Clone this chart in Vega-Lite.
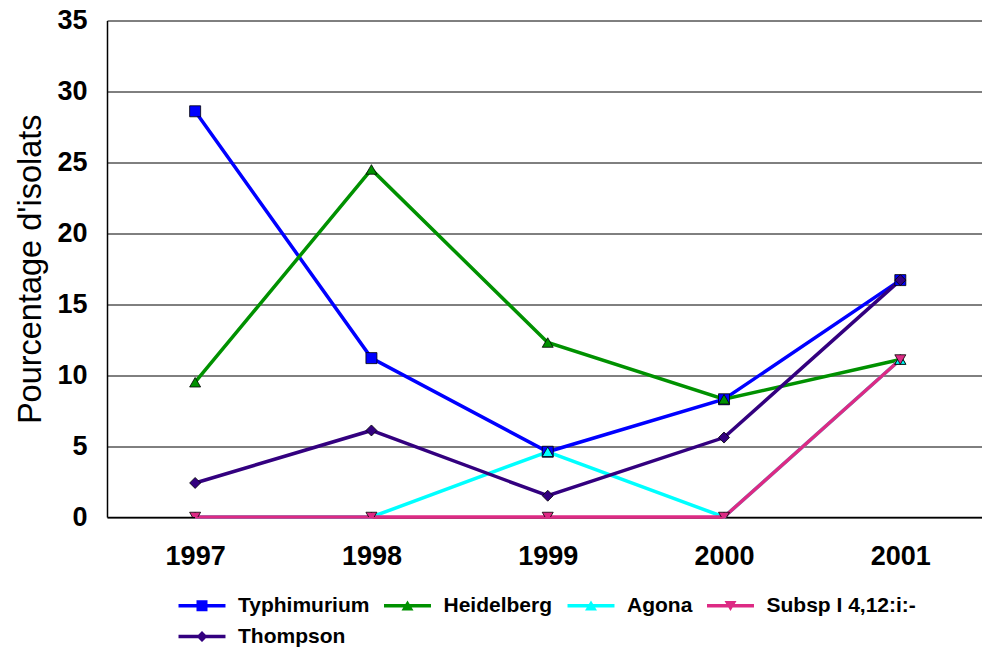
{
  "$schema": "https://vega.github.io/schema/vega-lite/v6.json",
  "width": 875,
  "height": 496.5,
  "autosize": {"type": "none"},
  "padding": {"left": 107, "top": 20.5, "right": 0, "bottom": 133},
  "background": "white",
  "config": {"view": {"stroke": null}, "font": "Liberation Sans"},
  "data": {
    "values": [
      {"annee": "1997", "serie": "Typhimurium", "pct": 28.6},
      {"annee": "1998", "serie": "Typhimurium", "pct": 11.2},
      {"annee": "1999", "serie": "Typhimurium", "pct": 4.6},
      {"annee": "2000", "serie": "Typhimurium", "pct": 8.3},
      {"annee": "2001", "serie": "Typhimurium", "pct": 16.7},
      {"annee": "1997", "serie": "Heidelberg", "pct": 9.5},
      {"annee": "1998", "serie": "Heidelberg", "pct": 24.5},
      {"annee": "1999", "serie": "Heidelberg", "pct": 12.3},
      {"annee": "2000", "serie": "Heidelberg", "pct": 8.3},
      {"annee": "2001", "serie": "Heidelberg", "pct": 11.1},
      {"annee": "1997", "serie": "Agona", "pct": 0},
      {"annee": "1998", "serie": "Agona", "pct": 0},
      {"annee": "1999", "serie": "Agona", "pct": 4.6},
      {"annee": "2000", "serie": "Agona", "pct": 0},
      {"annee": "2001", "serie": "Agona", "pct": 11.1},
      {"annee": "1997", "serie": "Subsp I 4,12:i:-", "pct": 0},
      {"annee": "1998", "serie": "Subsp I 4,12:i:-", "pct": 0},
      {"annee": "1999", "serie": "Subsp I 4,12:i:-", "pct": 0},
      {"annee": "2000", "serie": "Subsp I 4,12:i:-", "pct": 0},
      {"annee": "2001", "serie": "Subsp I 4,12:i:-", "pct": 11.1},
      {"annee": "1997", "serie": "Thompson", "pct": 2.4},
      {"annee": "1998", "serie": "Thompson", "pct": 6.1},
      {"annee": "1999", "serie": "Thompson", "pct": 1.5},
      {"annee": "2000", "serie": "Thompson", "pct": 5.6},
      {"annee": "2001", "serie": "Thompson", "pct": 16.7}
    ]
  },
  "encoding": {
    "x": {
      "field": "annee", "type": "ordinal",
      "scale": {"type": "point", "padding": 0.4816, "align": 0.519},
      "axis": {
        "title": null, "labelAngle": 0, "grid": false,
        "ticks": false, "tickSize": 0,
        "domainColor": "#000000", "domainWidth": 1.5,
        "labelFont": "Liberation Sans", "labelFontWeight": "bold", "labelFontSize": 27,
        "labelColor": "#000000", "labelPadding": 26
      }
    },
    "y": {
      "field": "pct", "type": "quantitative",
      "scale": {"domain": [0, 35], "nice": false},
      "axis": {
        "values": [0, 5, 10, 15, 20, 25, 30, 35],
        "grid": true, "gridColor": "#000000", "gridWidth": 1, "gridOpacity": 1,
        "ticks": false, "tickSize": 0,
        "domainColor": "#000000", "domainWidth": 1.5,
        "labelFont": "Liberation Sans", "labelFontWeight": "bold", "labelFontSize": 27,
        "labelColor": "#000000", "labelPadding": 20,
        "title": "Pourcentage d'isolats",
        "titleFont": "Liberation Sans", "titleFontWeight": "normal", "titleFontSize": 32.5,
        "titleColor": "#000000", "titlePadding": 9
      }
    }
  },
  "layer": [
    {
      "mark": {"type": "line", "strokeWidth": 3.5},
      "encoding": {
        "color": {
          "field": "serie", "type": "nominal",
          "scale": {
            "domain": ["Typhimurium", "Heidelberg", "Agona", "Subsp I 4,12:i:-", "Thompson"],
            "range": ["#0000FF", "#009100", "#00FFFF", "#DD2A84", "#33007F"]
          },
          "legend": null
        }
      }
    },
    {
      "mark": {"type": "point", "filled": true, "size": 121, "stroke": "#000000", "strokeWidth": 0.8, "opacity": 1, "clip": true},
      "encoding": {
        "fill": {
          "field": "serie", "type": "nominal",
          "scale": {
            "domain": ["Typhimurium", "Heidelberg", "Agona", "Subsp I 4,12:i:-", "Thompson"],
            "range": ["#0000FF", "#009100", "#00FFFF", "#DD2A84", "#33007F"]
          },
          "legend": null
        },
        "shape": {
          "field": "serie", "type": "nominal",
          "scale": {
            "domain": ["Typhimurium", "Heidelberg", "Agona", "Subsp I 4,12:i:-", "Thompson"],
            "range": ["square", "triangle-up", "triangle-up", "triangle-down", "diamond"]
          },
          "legend": null
        }
      }
    },
    {
      "mark": {"type": "point", "filled": true, "size": 121, "opacity": 0, "strokeWidth": 0, "clip": true},
      "encoding": {
        "fill": {
          "field": "serie", "type": "nominal",
          "scale": {
            "domain": ["Typhimurium", "Heidelberg", "Agona", "Subsp I 4,12:i:-", "Thompson"],
            "range": ["#0000FF", "#009100", "#00FFFF", "#DD2A84", "#33007F"]
          },
          "legend": {
            "title": null, "orient": "none", "legendX": 84.5, "legendY": 574.5,
            "direction": "horizontal", "columns": 4, "padding": 0,
            "symbolSize": 121, "symbolStrokeWidth": 0, "symbolOpacity": 1,
            "labelFont": "Liberation Sans", "labelFontWeight": "bold", "labelFontSize": 21,
            "labelColor": "#000000", "labelOffset": 25.5, "columnPadding": 14.5, "rowPadding": 9,
            "labelLimit": 400
          }
        },
        "shape": {
          "field": "serie", "type": "nominal",
          "scale": {
            "domain": ["Typhimurium", "Heidelberg", "Agona", "Subsp I 4,12:i:-", "Thompson"],
            "range": [
              "M-4.27,-0.32H4.27V0.32H-4.27Z M-1,-1H1V1H-1Z",
              "M-4.27,-0.32H4.27V0.32H-4.27Z M0,-0.95L1.09,0.85H-1.09Z",
              "M-4.27,-0.32H4.27V0.32H-4.27Z M0,-0.95L1.09,0.85H-1.09Z",
              "M-4.27,-0.32H4.27V0.32H-4.27Z M0,0.95L-1.09,-0.85H1.09Z",
              "M-4.27,-0.32H4.27V0.32H-4.27Z M0,-1L1,0L0,1L-1,0Z"
            ]
          },
          "legend": {
            "title": null, "orient": "none", "legendX": 84.5, "legendY": 574.5,
            "direction": "horizontal", "columns": 4, "padding": 0,
            "symbolSize": 121, "symbolStrokeWidth": 0, "symbolOpacity": 1,
            "labelFont": "Liberation Sans", "labelFontWeight": "bold", "labelFontSize": 21,
            "labelColor": "#000000", "labelOffset": 25.5, "columnPadding": 14.5, "rowPadding": 9,
            "labelLimit": 400
          }
        }
      }
    }
  ],
  "resolve": {
    "scale": {"fill": "independent", "shape": "independent"},
    "legend": {"fill": "independent", "shape": "independent"}
  }
}
